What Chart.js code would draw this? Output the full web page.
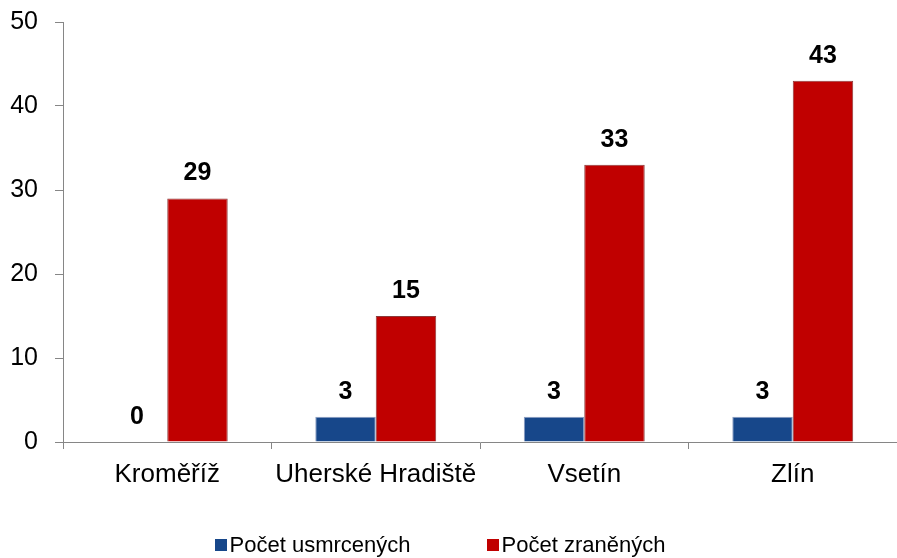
<!DOCTYPE html>
<html>
<head>
<meta charset="utf-8">
<script src="https://cdn.jsdelivr.net/npm/chart.js@4/dist/chart.umd.min.js"></script>
<style>
  html, body { margin: 0; padding: 0; background: #fff; }
  #wrap { position: relative; width: 897px; height: 558px; }
  #legenda {
    position: absolute; left: 0; top: 532px; width: 880px;
    display: flex; justify-content: center; gap: 76px;
    font-family: "Liberation Sans", Arial, sans-serif; font-size: 22px; color: #000;
  }
  #legenda span { display: flex; align-items: center; }
  #legenda i { display: inline-block; width: 12px; height: 12px; margin-right: 3px; }
</style>
</head>
<body>
<div id="wrap">
  <canvas id="graf" width="897" height="558"></canvas>
  <div id="legenda"></div>
</div>
<script>
const okresy = ["Kroměříž", "Uherské Hradiště", "Vsetín", "Zlín"]
const usmrceni = [0, 3, 3, 3]
const zraneni = [29, 15, 33, 43]
const osaY = [0, 10, 20, 30, 40, 50]

const barvy = ["#17478A", "#C00000"]
const okraje = ["#8A9CC0", "#8B3A3A"]

// popisky hodnot nad sloupci
const popisky = {
  id: "popisky",
  afterDatasetsDraw(chart) {
    const ctx = chart.ctx
    ctx.save()
    ctx.font = "bold 25px 'Liberation Sans', Arial, sans-serif"
    ctx.fillStyle = "#000"
    ctx.textAlign = "center"
    ctx.textBaseline = "middle"
    chart.data.datasets.forEach((ds, i) => {
      chart.getDatasetMeta(i).data.forEach((bar, j) => {
        ctx.fillText(ds.data[j], bar.x, bar.y - 25)
      })
    })
    ctx.restore()
  }
}

let ctx = document.getElementById("graf").getContext("2d")
window.graf = new Chart(ctx, {
  type: "bar",
  data: {
    labels: okresy,
    datasets: [
      { label: "Počet usmrcených", data: usmrceni, backgroundColor: barvy[0], borderColor: okraje[0], borderWidth: 1 },
      { label: "Počet zraněných", data: zraneni, backgroundColor: barvy[1], borderColor: okraje[1], borderWidth: 1 }
    ]
  },
  options: {
    responsive: false,
    animation: false,
    layout: { padding: { top: 22, right: 0, bottom: 74, left: 0 } },
    datasets: { bar: { categoryPercentage: 0.58, barPercentage: 1 } },
    plugins: { legend: { display: false }, tooltip: { enabled: false } },
    scales: {
      x: {
        grid: { offset: true, drawOnChartArea: false, color: "#868686", tickLength: 7 },
        border: { color: "#868686", width: 1 },
        ticks: { color: "#000", padding: 10, font: { family: "'Liberation Sans', Arial, sans-serif", size: 26 } },
        afterFit(s) { s.height = 42 }
      },
      y: {
        min: 0,
        max: 50,
        afterBuildTicks(s) { s.ticks = osaY.map(v => ({ value: v })) },
        grid: { drawOnChartArea: false, color: "#868686", tickLength: 8 },
        border: { color: "#868686", width: 1 },
        ticks: { color: "#000", padding: 17, font: { family: "'Liberation Sans', Arial, sans-serif", size: 25 } },
        afterFit(s) { s.width = 63; s.paddingTop = 0; s.paddingBottom = 0 }
      }
    }
  },
  plugins: [popisky]
})

let leg = document.getElementById("legenda")
window.graf.data.datasets.forEach((ds, i) => {
  let s = document.createElement("span")
  s.innerHTML = '<i style="background:' + barvy[i] + '"></i>' + ds.label
  leg.appendChild(s)
})
</script>
</body>
</html>
